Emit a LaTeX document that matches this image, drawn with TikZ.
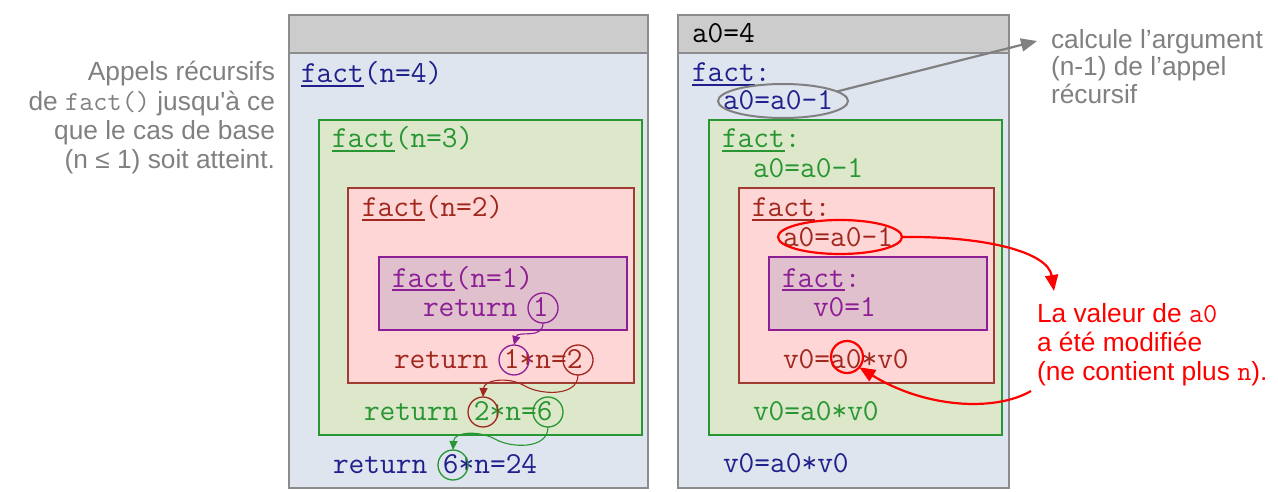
\documentclass[tikz,border=0pt]{standalone}
\usepackage{fontspec}
\setmainfont{Liberation Sans}
\usetikzlibrary{arrows.meta,shapes.geometric}
\definecolor{cNavy}{RGB}{32,32,140}
\definecolor{cGreen}{RGB}{40,150,50}
\definecolor{cRed}{RGB}{160,40,30}
\definecolor{cRedBd}{RGB}{160,60,50}
\definecolor{cPurp}{RGB}{140,30,150}
\definecolor{cBlue}{RGB}{222,229,239}
\definecolor{cGreenF}{RGB}{221,232,203}
\definecolor{cRedF}{RGB}{255,214,214}
\definecolor{cPurpF}{RGB}{224,192,204}
\definecolor{cHead}{RGB}{204,204,204}
\definecolor{cBorder}{RGB}{140,140,140}
\definecolor{cGray}{RGB}{128,128,128}
\definecolor{cAlert}{RGB}{255,0,0}
\newcommand\ufact{\setbox0=\hbox{fact}\rlap{\rule[-3.6pt]{\wd0}{1.5pt}}\box0}
\newcommand\smallmono[1]{{\ttfamily\fontsize{27.5}{30}\selectfont #1}}
\begin{document}
\begin{tikzpicture}[x=1pt,y=-1pt,
  every node/.style={inner sep=0pt,outer sep=0pt},
  code/.style={font=\ttfamily\fontsize{30.5}{32}\selectfont,anchor=base west},
  note/.style={font=\fontsize{26.3}{30}\selectfont,anchor=base west},
  circ/.style={draw=#1,circle,minimum size=30pt,line width=1.3pt},
  frame/.style={line width=1.4pt},
  retarrow/.style={draw=#1,line width=1.1pt,-{Triangle[length=9pt,width=8pt]}},
  bigarrow/.style={draw=#1,line width=2.2pt,-{Triangle[length=16pt,width=13pt]}}]
\useasboundingbox (0,0) rectangle (1278,492);

% ---------- left panel ----------
\fill[cBlue] (289,15) rectangle (648,488);
\fill[cHead] (289,15) rectangle (648,53);
\draw[cBorder,line width=1.8pt] (289,15) rectangle (648,488);
\draw[cBorder,line width=1.8pt] (289,53) -- (648,53);
\draw[frame,draw=cGreen,fill=cGreenF] (319,120) rectangle (642,435);
\draw[frame,draw=cRedBd,fill=cRedF] (348,188) rectangle (634,383);
\draw[frame,draw=cPurp,fill=cPurpF] (379,257) rectangle (627,330);

\node[code,text=cNavy] (f4) at (301,83) {\ufact(n=4)};
\node[code,text=cGreen] (f3) at (332,148) {\ufact(n=3)};
\node[code,text=cRed] (f2) at (362,217) {\ufact(n=2)};
\node[code,text=cPurp] (f1) at (392,287) {\ufact(n=1)};
\node[code,text=cPurp] (r1) at (423,316) {return 1};
\node[code,text=cRed] (r2) at (394,368) {return 1*n=2};
\node[code,text=cGreen] (r3) at (364,420) {return 2*n=6};
\node[code,text=cNavy] (r4) at (333,473) {return 6*n=24};

\node[circ=cPurp] (c1a) at (543,308) {};
\node[circ=cPurp] (c1b) at (514,360) {};
\node[circ=cRed] (c2a) at (578,360) {};
\node[circ=cRed] (c2b) at (483,412) {};
\node[circ=cGreen] (c6a) at (548,412) {};
\node[circ=cGreen] (c6b) at (453,465) {};

\draw[retarrow=cPurp] (c1a.south) .. controls (543,340) and (518,330) .. (c1b.north);
\draw[retarrow=cRed] (c2a.south) .. controls (578,397) and (540,395) .. (525,386)
   .. controls (508,376) and (484,380) .. (c2b.north);
\draw[retarrow=cGreen] (c6a.south) .. controls (548,450) and (510,448) .. (495,439)
   .. controls (478,430) and (454,432) .. (c6b.north);

% ---------- right panel ----------
\fill[cBlue] (678,15) rectangle (1009,488);
\fill[cHead] (678,15) rectangle (1009,53);
\draw[cBorder,line width=1.8pt] (678,15) rectangle (1009,488);
\draw[cBorder,line width=1.8pt] (678,53) -- (1009,53);
\draw[frame,draw=cGreen,fill=cGreenF] (709,120) rectangle (1002,435);
\draw[frame,draw=cRedBd,fill=cRedF] (739,188) rectangle (994,383);
\draw[frame,draw=cPurp,fill=cPurpF] (769,257) rectangle (987,330);

\node[code,text=black] (a4) at (692,43) {a0=4};
\node[code,text=cNavy] (g4) at (692,82) {\ufact:};
\node[code,text=cNavy] (d4) at (723,110) {a0=a0-1};
\node[code,text=cGreen] (g3) at (722,148) {\ufact:};
\node[code,text=cGreen] (d3) at (753,178) {a0=a0-1};
\node[code,text=cRed] (g2) at (752,217) {\ufact:};
\node[code,text=cRed] (d2) at (783,247) {a0=a0-1};
\node[code,text=cPurp] (g1) at (782,287) {\ufact:};
\node[code,text=cPurp] (v1) at (813,316) {v0=1};
\node[code,text=cRed] (m2) at (783,368) {v0=a0*v0};
\node[code,text=cGreen] (m3) at (753,420) {v0=a0*v0};
\node[code,text=cNavy] (m4) at (723,472) {v0=a0*v0};

\node[draw=cGray,ellipse,line width=2pt,minimum width=130pt,minimum height=34pt] (eg) at (783,101) {};
\node[draw=cAlert,ellipse,line width=2.2pt,minimum width=124pt,minimum height=34pt] (er) at (840,237) {};
\node[draw=cAlert,circle,line width=2.2pt,minimum size=32pt] (rc) at (847,357) {};

% ---------- notes ----------
\node[note,anchor=base east,text=cGray] (l1) at (275,81) {Appels récursifs};
\node[note,anchor=base east,text=cGray] (l2) at (275,110.5) {de \smallmono{fact()} jusqu\textquotesingle à ce};
\node[note,anchor=base east,text=cGray] (l3) at (275,140) {que le cas de base};
\node[note,anchor=base east,text=cGray] (l4) at (275,169) {(n ≤ 1) soit atteint.};

\node[note,text=cGray] (t1) at (1051,48.5) {calcule l’argument};
\node[note,text=cGray] (t2) at (1051,76) {(n-1) de l’appel};
\node[note,text=cGray] (t3) at (1051,103.5) {récursif};

\node[note,text=cAlert] (n1) at (1037,322) {La valeur de \smallmono{a0}};
\node[note,text=cAlert] (n2) at (1037,351.5) {a été modifiée};
\node[note,text=cAlert] (n3) at (1037,380.5) {(ne contient plus \smallmono{n}).};

\coordinate (gt) at (1037,41);
\coordinate (ra) at (1054,291);
\coordinate (rs) at (1031,391);

\draw[bigarrow=cGray] (eg.10) -- (gt);
\draw[bigarrow=cAlert] (er.east) .. controls (985,236) and (1048,252) .. (ra);
\draw[bigarrow=cAlert] (rs) .. controls (995,412) and (925,408) .. (rc.-40);
\end{tikzpicture}
\end{document}
